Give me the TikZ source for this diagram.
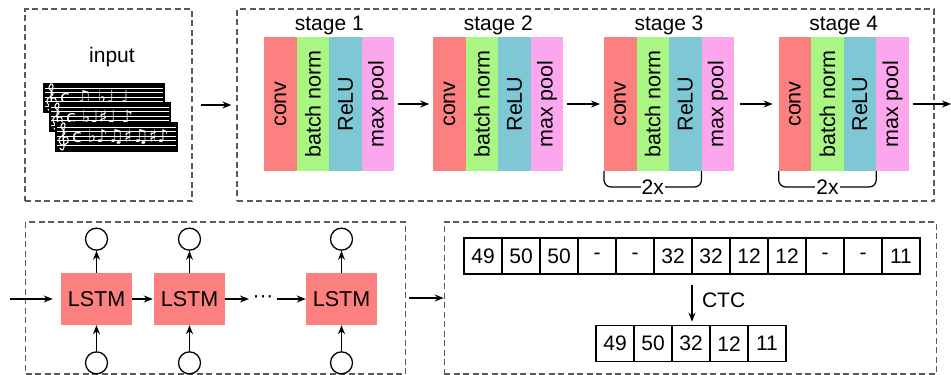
\documentclass[tikz,border=0pt]{standalone}
\usepackage{graphicx}
\usepackage{fontspec}
\setmainfont{Liberation Sans}
\newfontfamily\musicfont{DejaVu Sans}
\usetikzlibrary{arrows.meta,positioning}
\definecolor{convred}{RGB}{252,128,128}
\definecolor{normgreen}{RGB}{170,246,130}
\definecolor{relublue}{RGB}{126,200,214}
\definecolor{poolpink}{RGB}{252,166,238}
\definecolor{panelgray}{RGB}{90,90,90}
% treble clef drawn in white, #1,#2 = top left of the staff
\newcommand\gclef[2]{\draw[white, line width=1.1pt, line cap=round] plot[smooth, tension=0.6] coordinates
  {({#1+5},{#2+26}) ({#1+7},{#2+28}) ({#1+9},{#2+25}) ({#1+8},{#2+12}) ({#1+10},{#2+3}) ({#1+8},{#2+1})
   ({#1+6},{#2+5}) ({#1+10},{#2+11}) ({#1+4},{#2+17}) ({#1+7},{#2+23}) ({#1+13},{#2+20}) ({#1+12},{#2+15})
   ({#1+8},{#2+16}) ({#1+9},{#2+20})};}

\begin{document}
\begin{tikzpicture}[x=1pt, y=-1pt, font=\fontsize{21}{25}\selectfont,
  panel/.style={draw=panelgray, line width=1.2pt, dash pattern=on 6pt off 3.5pt, inner sep=0pt},
  col/.style={minimum width=32.5pt, minimum height=134pt, inner sep=0pt, outer sep=0pt, anchor=west, font=\fontsize{21.5}{25}\selectfont},
  lstm/.style={fill=convred, minimum width=71pt, minimum height=52pt, inner sep=0pt, font=\fontsize{21.5}{25}\selectfont},
  io/.style={draw, circle, line width=1.3pt, minimum size=22pt, inner sep=0pt},
  cell/.style={draw, line width=1.1pt, minimum width=38pt, minimum height=36pt, inner sep=0pt, outer sep=0pt, anchor=west, font=\fontsize{21}{25}\selectfont},
  notes/.style={text=white, anchor=west, inner sep=0pt, font=\musicfont\fontsize{18}{18}\selectfont},
  arr/.style={-{Stealth[length=9pt, width=7pt]}, line width=1.4pt},
  brace/.style={line width=1.2pt, rounded corners=7pt},
  twox/.style={fill=white, inner sep=1pt}]

  \useasboundingbox (0,0) rectangle (951,375);

  % panels
  \node[panel, minimum width=167pt, minimum height=192pt] (inbox) at (108.5,105) {};
  \node[panel, minimum width=697pt, minimum height=192pt] (stagebox) at (585.5,105) {};
  \node[panel, minimum width=380pt, minimum height=152pt] (lstmbox) at (215.7,298) {};
  \node[panel, minimum width=492pt, minimum height=152pt] (ctcbox) at (690.3,298) {};

  % input: stacked score lines
  \node (intext) at (112,57) {input};
  \fill (43,83) rectangle (165,113);
  \foreach \dy in {5,9.5,14,18.5,23} \draw[white, line width=0.5pt] (45,{83+\dy}) -- (163,{83+\dy});
  \gclef{43}{83}
  \node[notes] (n1) at (60,98) {c ♫ ♭♩ ♩};
  \fill (49,102) rectangle (171,132);
  \foreach \dy in {5,9.5,14,18.5,23} \draw[white, line width=0.5pt] (51,{102+\dy}) -- (169,{102+\dy});
  \gclef{49}{102}
  \node[notes] (n2) at (66,117) {c ♭♩♯♩ ♪};
  \fill (55,122) rectangle (178,152);
  \foreach \dy in {5,9.5,14,18.5,23} \draw[white, line width=0.5pt] (57,{122+\dy}) -- (176,{122+\dy});
  \gclef{55}{122}
  \node[notes] (n3) at (72,137) {c ♭♪♫♯♫♯♪};

  % stage 1
  \node[col, fill=convred] (conv1) at (264.3,104) {\rotatebox{90}{conv}};
  \node[col, fill=normgreen] (norm1) at (conv1.east) {\rotatebox{90}{batch norm}};
  \node[col, fill=relublue] (relu1) at (norm1.east) {\rotatebox{90}{ReLU}};
  \node[col, fill=poolpink] (pool1) at (relu1.east) {\rotatebox{90}{max pool}};
  \node[anchor=base] (st1) at ([yshift=7pt]norm1.north east) {stage 1};

  % stage 2
  \node[col, fill=convred] (conv2) at (433.3,104) {\rotatebox{90}{conv}};
  \node[col, fill=normgreen] (norm2) at (conv2.east) {\rotatebox{90}{batch norm}};
  \node[col, fill=relublue] (relu2) at (norm2.east) {\rotatebox{90}{ReLU}};
  \node[col, fill=poolpink] (pool2) at (relu2.east) {\rotatebox{90}{max pool}};
  \node[anchor=base] (st2) at ([yshift=7pt]norm2.north east) {stage 2};

  % stage 3
  \node[col, fill=convred] (conv3) at (604,104) {\rotatebox{90}{conv}};
  \node[col, fill=normgreen] (norm3) at (conv3.east) {\rotatebox{90}{batch norm}};
  \node[col, fill=relublue] (relu3) at (norm3.east) {\rotatebox{90}{ReLU}};
  \node[col, fill=poolpink] (pool3) at (relu3.east) {\rotatebox{90}{max pool}};
  \node[anchor=base] (st3) at ([yshift=7pt]norm3.north east) {stage 3};
  \draw[brace] (conv3.south west) -- ++(0,16) -| (relu3.south east);
  \node[twox] (x3) at ([yshift=-16pt]norm3.south) {2x};

  % stage 4
  \node[col, fill=convred] (conv4) at (778.7,104) {\rotatebox{90}{conv}};
  \node[col, fill=normgreen] (norm4) at (conv4.east) {\rotatebox{90}{batch norm}};
  \node[col, fill=relublue] (relu4) at (norm4.east) {\rotatebox{90}{ReLU}};
  \node[col, fill=poolpink] (pool4) at (relu4.east) {\rotatebox{90}{max pool}};
  \node[anchor=base] (st4) at ([yshift=7pt]norm4.north east) {stage 4};
  \draw[brace] (conv4.south west) -- ++(0,16) -| (relu4.south east);
  \node[twox] (x4) at ([yshift=-16pt]norm4.south) {2x};

  \coordinate (cnnout) at (951,104);
  \draw[arr, shorten <=8pt, shorten >=5pt] (inbox) -- (stagebox);
  \draw[arr, shorten <=4pt, shorten >=4pt] (pool1) -- (conv2);
  \draw[arr, shorten <=4pt, shorten >=4pt] (pool2) -- (conv3);
  \draw[arr, shorten <=6pt, shorten >=6pt] (pool3) -- (conv4);
  \draw[arr, shorten <=4pt] (pool4) -- (cnnout);

  % recurrent part
  \node[lstm] (l1) at (96.5,299) {LSTM};
  \node[lstm] (l2) at (189.5,299) {LSTM};
  \node (dots) at (263,299) {···};
  \node[lstm] (l3) at (341.5,299) {LSTM};
  \node[io, above=22pt of l1] (o1) {};
  \node[io, above=22pt of l2] (o2) {};
  \node[io, above=22pt of l3] (o3) {};
  \node[io, below=26pt of l1] (i1) {};
  \node[io, below=26pt of l2] (i2) {};
  \node[io, below=26pt of l3] (i3) {};
  \draw[arr] (i1) -- (l1);
  \draw[arr] (i2) -- (l2);
  \draw[arr] (i3) -- (l3);
  \draw[arr] (l1) -- (o1);
  \draw[arr] (l2) -- (o2);
  \draw[arr] (l3) -- (o3);
  \coordinate (rnnin) at (10,299);
  \draw[arr, shorten >=8pt] (rnnin) -- (l1);
  \draw[arr, shorten >=1pt] (l1) -- (l2);
  \draw[arr] (l2) -- (dots);
  \draw[arr] (dots) -- (l3);
  \draw[arr, shorten <=3pt] (lstmbox) -- (ctcbox);

  % frame-wise predictions
  \node[cell] (f1) at (464,256) {49};
  \node[cell] (f2) at (f1.east) {50};
  \node[cell] (f3) at (f2.east) {50};
  \node[cell] (f4) at (f3.east) {-};
  \node[cell] (f5) at (f4.east) {-};
  \node[cell] (f6) at (f5.east) {32};
  \node[cell] (f7) at (f6.east) {32};
  \node[cell] (f8) at (f7.east) {12};
  \node[cell] (f9) at (f8.east) {12};
  \node[cell] (f10) at (f9.east) {-};
  \node[cell] (f11) at (f10.east) {-};
  \node[cell] (f12) at (f11.east) {11};

  % decoded sequence
  \node[cell] (y1) at (596,343.7) {49};
  \node[cell] (y2) at (y1.east) {50};
  \node[cell] (y3) at (y2.east) {32};
  \node[cell] (y4) at (y3.east) {12};
  \node[cell] (y5) at (y4.east) {11};
  \draw[arr, shorten <=11pt, shorten >=4pt] (f6.south east) -- (f6.south east |- y3.north)
    node[midway, right, xshift=6pt] (ctc) {CTC};

\end{tikzpicture}
\end{document}
